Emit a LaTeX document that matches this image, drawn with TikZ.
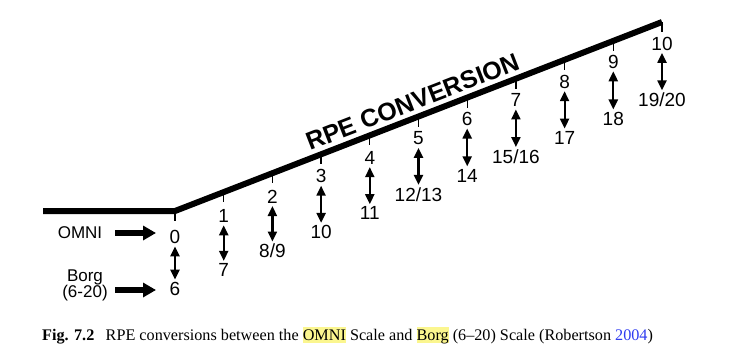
\documentclass[tikz,border=0pt]{standalone}
\usepackage{fontspec}
\setmainfont{Liberation Serif}
\newfontfamily\arialf{Liberation Sans}
\usetikzlibrary{arrows.meta,calc}
\definecolor{hly}{HTML}{FBF68F}
\definecolor{linkblue}{HTML}{2F3CF0}
\newcommand\hlt[1]{{\setlength\fboxsep{0pt}\colorbox{hly}{\rule[-0.18em]{0pt}{0.98em}#1}}}
\tikzset{
  num/.style={font=\arialf\fontsize{19}{19}\selectfont, inner sep=0pt},
  lbl/.style={font=\arialf\fontsize{17}{16}\selectfont, inner sep=0pt, align=center},
  dbl/.style={{Triangle[length=10pt,width=9pt]}-{Triangle[length=10pt,width=9pt]}, line width=2.2pt},
  fat/.style={-{Triangle[length=13pt,width=14pt]}, line width=6pt},
  tick/.style={line width=1.3pt},
  scale line/.style={line width=6pt, line join=miter}
}
\begin{document}
\begin{tikzpicture}[x=1pt,y=-1pt]
\useasboundingbox (0,0) rectangle (739,364);
% main line
\coordinate (L) at (43,211);
\coordinate (K) at (175,211);
\coordinate (R) at (662,22);
\draw[scale line] (L) -- (K) -- (R);
% ticks, numbers, arrows
\foreach \k/\tp/\bt/\off in {0/0/6/26,1/1/7/24,2/2/{8/9}/23.5,3/3/10/22,4/4/11/22.5,5/5/{12/13}/22,6/6/14/21.5,7/7/{15/16}/21.5,8/8/17/22,9/9/18/21,10/10/{19/20}/21.5}{
  \pgfmathsetmacro\xx{175+48.7*\k}
  \pgfmathsetmacro\yy{211-18.9*\k}
  \coordinate (c\k) at (\xx,\yy);
  \coordinate (d\k) at (\xx,\yy+10);
  \draw[tick] (c\k) -- (d\k);
  \node[num] (t\k) at (\xx,\yy+\off) {\tp};
  \node[num] (b\k) at (\xx,\yy+78) {\bt};
  \draw[dbl] ([yshift=-2.5pt]t\k.south) -- ([yshift=2.5pt]b\k.north);
}
% side labels
\node[lbl] (omni) at (80,233) {OMNI};
\node[lbl] (borg) at (85,285.5) {Borg\\(6-20)};
\coordinate (oa) at (115,233);
\coordinate (ob) at (156,233);
\coordinate (ba) at (115,290);
\coordinate (bb) at (156,290);
\draw[fat] (oa) -- (ob);
\draw[fat] (ba) -- (bb);
% title
\node[font=\arialf\bfseries\fontsize{25}{25}\selectfont, rotate=21.2, inner sep=0pt] (title) at (413,101.8) {RPE CONVERSION};
% caption
\node[anchor=base west, inner sep=0pt, font=\fontsize{16.2}{18}\selectfont] (cap) at (42,340)
 {\textbf{Fig. 7.2}\hspace{0.7em}RPE conversions between the \hlt{OMNI} Scale and \hlt{Borg} (6--20) Scale (Robertson \textcolor{linkblue}{2004})};
\end{tikzpicture}
\end{document}
